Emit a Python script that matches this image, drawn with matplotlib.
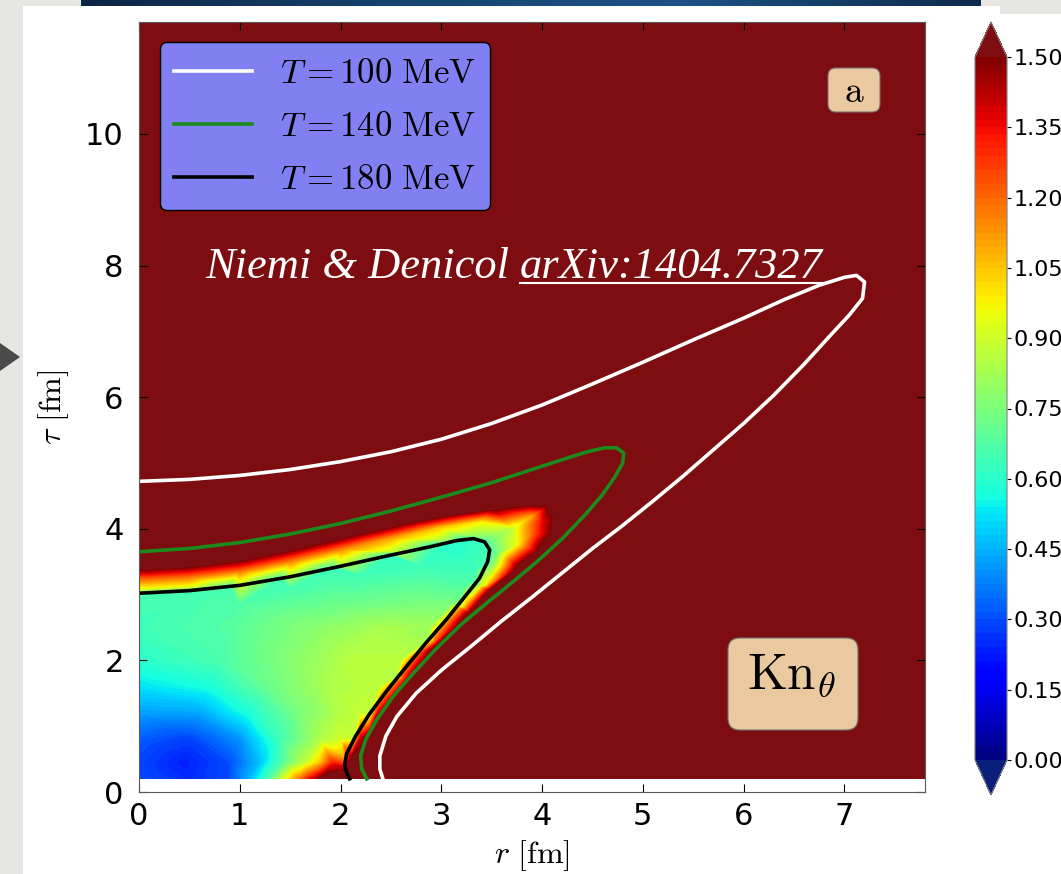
import numpy as np
import matplotlib

matplotlib.use("Agg")

import matplotlib.pyplot as plt
import matplotlib.tri as mtri
from matplotlib.colors import LinearSegmentedColormap
from matplotlib.lines import Line2D
from matplotlib.patches import FancyBboxPatch, Polygon, Rectangle

plt.rcParams["mathtext.fontset"] = "cm"

W, H = 1061, 874

# ---- isotherms (r, tau) in fm ----
T100_R = [0.0, 0.5, 1.0, 1.5, 2.0, 2.5, 3.0, 3.5, 4.0, 4.5, 5.0, 5.5, 6.0, 6.4, 6.75, 7.0,
          7.12, 7.2, 7.18, 7.05, 6.85, 6.6, 6.3, 6.0, 5.7, 5.4, 5.1, 4.8, 4.5, 4.2, 3.9,
          3.6, 3.3, 3.0, 2.75, 2.56, 2.45, 2.39, 2.39, 2.42]
T100_TAU = [4.72, 4.75, 4.81, 4.9, 5.02, 5.17, 5.36, 5.6, 5.88, 6.2, 6.53, 6.87, 7.2, 7.48, 7.7, 7.82,
            7.85, 7.75, 7.5, 7.25, 6.92, 6.5, 6.03, 5.6, 5.2, 4.8, 4.42, 4.05, 3.7, 3.33, 2.96,
            2.6, 2.22, 1.85, 1.5, 1.15, 0.85, 0.55, 0.35, 0.2]

T140_R = [0.0, 0.5, 1.0, 1.5, 2.0, 2.5, 3.0, 3.5, 3.9, 4.2, 4.45, 4.62, 4.74, 4.81, 4.8,
          4.72, 4.6, 4.42, 4.2, 3.95, 3.7, 3.45, 3.2, 2.95, 2.72, 2.52, 2.36, 2.25, 2.2,
          2.21, 2.26]
T140_TAU = [3.65, 3.7, 3.79, 3.92, 4.08, 4.27, 4.48, 4.7, 4.9, 5.05, 5.17, 5.23, 5.23, 5.15, 5.0,
            4.78, 4.52, 4.2, 3.85, 3.5, 3.18, 2.87, 2.55, 2.18, 1.8, 1.45, 1.1, 0.8, 0.55,
            0.35, 0.2]

T180_R = [0.0, 0.5, 1.0, 1.5, 2.0, 2.5, 2.9, 3.15, 3.32, 3.43, 3.48, 3.46, 3.38, 3.25,
          3.05, 2.85, 2.65, 2.45, 2.28, 2.15, 2.06, 2.04, 2.07, 2.09]
T180_TAU = [3.02, 3.06, 3.14, 3.27, 3.43, 3.6, 3.73, 3.82, 3.85, 3.8, 3.68, 3.5, 3.25, 3.0,
            2.62, 2.27, 1.9, 1.52, 1.17, 0.85, 0.58, 0.4, 0.26, 0.2]

# ---- Kn_theta samples (r, tau, value) ----
KN_R = [
    # interior
    0.0, 0.5, 0.9, 1.1, 1.3, 1.45, 1.58, 1.7, 1.85,
    0.0, 0.45, 0.9, 1.2, 1.45, 1.65, 1.8, 1.92,
    0.0, 0.5, 1.0, 1.4, 1.8, 2.0,
    0.0, 0.6, 1.1, 1.6, 2.0, 2.2,
    0.0, 0.7, 1.3, 1.9, 2.4,
    0.0, 0.8, 1.5, 2.1, 2.6,
    0.0, 0.9, 1.7, 2.4, 2.9,
    0.0, 1.0, 2.0, 2.8, 3.1,
    1.5, 2.2, 2.8, 3.2, 3.35, 3.25,
    # along the T=180 MeV edge
    0.0, 0.5, 0.9, 1.4, 1.9, 2.5, 3.0, 3.25, 3.42, 3.48,
    3.45, 3.35, 3.18, 2.88, 2.56, 2.3, 2.13, 2.04, 2.05, 2.09,
    # just outside the edge
    0.0, 0.5, 1.0, 1.5, 2.0, 2.5, 3.0, 3.3,
    3.52, 3.57, 3.54, 3.44, 3.26, 2.95, 2.63, 2.37, 2.2, 2.11,
    # middle of the halo
    0.0, 0.5, 1.0, 1.5, 2.0, 2.5, 3.0, 3.4,
    3.7, 3.9, 3.75, 3.9, 4.0,
    # outer rim of the halo
    0.0, 0.5, 1.0, 1.5, 2.0, 2.5, 3.0, 3.5, 3.85, 4.1,
    4.2, 4.15, 4.0, 3.78, 3.5, 3.3, 2.98, 2.72, 2.46, 2.28, 2.19, 2.2,
    # saturated background
    0.0, 7.8, 7.8, 0.0, 2.5, 5.0, 5.0, 5.0, 3.5, 2.8, 1.5, 3.0, 4.0,
]
KN_TAU = [
    0.2, 0.2, 0.2, 0.2, 0.2, 0.2, 0.2, 0.2, 0.2,
    0.45, 0.45, 0.45, 0.45, 0.45, 0.45, 0.45, 0.45,
    0.8, 0.8, 0.8, 0.8, 0.8, 0.8,
    1.2, 1.2, 1.2, 1.2, 1.2, 1.2,
    1.6, 1.6, 1.6, 1.6, 1.6,
    2.0, 2.0, 2.0, 2.0, 2.0,
    2.5, 2.5, 2.5, 2.5, 2.5,
    2.85, 2.85, 2.85, 2.85, 2.85,
    3.1, 3.3, 3.45, 3.6, 3.4, 3.15,
    3.02, 3.06, 3.12, 3.25, 3.41, 3.6, 3.77, 3.84, 3.8, 3.65,
    3.45, 3.15, 2.85, 2.32, 1.73, 1.22, 0.82, 0.52, 0.32, 0.2,
    3.09, 3.13, 3.21, 3.35, 3.51, 3.67, 3.84, 3.91,
    3.87, 3.65, 3.42, 3.13, 2.83, 2.29, 1.71, 1.21, 0.82, 0.52,
    3.24, 3.28, 3.37, 3.52, 3.69, 3.86, 4.03, 4.12,
    4.0, 4.2, 3.75, 3.9, 4.1,
    3.42, 3.47, 3.56, 3.72, 3.9, 4.07, 4.22, 4.33, 4.4, 4.38,
    4.2, 3.95, 3.65, 3.4, 3.05, 2.7, 2.22, 1.7, 1.2, 0.8, 0.5, 0.2,
    11.7, 11.7, 0.2, 5.0, 5.0, 5.0, 2.5, 0.2, 0.2, 0.2, 4.3, 1.0, 2.0,
]
KN_VAL = [
    0.30, 0.25, 0.30, 0.45, 0.68, 0.93, 1.15, 1.35, 1.60,
    0.29, 0.23, 0.30, 0.47, 0.70, 0.87, 1.05, 1.30,
    0.32, 0.28, 0.40, 0.64, 0.84, 0.90,
    0.42, 0.43, 0.58, 0.75, 0.85, 0.88,
    0.52, 0.57, 0.72, 0.84, 0.87,
    0.60, 0.66, 0.77, 0.86, 0.86,
    0.64, 0.68, 0.77, 0.83, 0.82,
    0.65, 0.67, 0.72, 0.75, 0.75,
    0.65, 0.64, 0.63, 0.61, 0.63, 0.67,
    0.65, 0.65, 0.65, 0.64, 0.63, 0.62, 0.61, 0.61, 0.63, 0.65,
    0.67, 0.71, 0.75, 0.82, 0.85, 0.86, 0.88, 1.10, 1.50, 1.60,
    0.95, 0.95, 0.95, 0.93, 0.92, 0.90, 0.85, 0.80,
    0.75, 0.75, 0.85, 1.00, 1.15, 1.25, 1.30, 1.35, 1.40, 1.50,
    1.20, 1.20, 1.20, 1.18, 1.15, 1.10, 1.05, 1.00,
    0.87, 1.10, 0.95, 1.20, 1.35,
    1.6, 1.6, 1.6, 1.6, 1.6, 1.6, 1.6, 1.6, 1.6, 1.6,
    1.6, 1.6, 1.6, 1.6, 1.6, 1.6, 1.6, 1.6, 1.6, 1.6, 1.6, 1.6,
    1.6, 1.6, 1.6, 1.6, 1.6, 1.6, 1.6, 1.6, 1.6, 1.6, 1.6, 1.6, 1.6,
]

ISOTHERM_LABELS = [r"$T=100\ \mathrm{MeV}$", r"$T=140\ \mathrm{MeV}$", r"$T=180\ \mathrm{MeV}$"]
ISOTHERM_COLORS = ["white", "#1c8a1c", "black"]
CBAR_TICKS = [0.0, 0.15, 0.30, 0.45, 0.60, 0.75, 0.90, 1.05, 1.20, 1.35, 1.50]

cmap = plt.get_cmap("jet").copy()
cmap.set_over("#7d0d10")
cmap.set_under("#0a1f7a")

fig = plt.figure(figsize=(W / 100, H / 100), dpi=100, facecolor="#e6e6e3")

# slide frame: white panel, title bar, arrow
fig.add_artist(Rectangle((23 / W, 0), 1, 868 / H, transform=fig.transFigure,
                         facecolor="white", edgecolor="none", zorder=0))
fig.add_artist(Rectangle((1000 / W, 860 / H), 61 / W, 14 / H, transform=fig.transFigure,
                         facecolor="#e6e6e3", edgecolor="none", zorder=0))
bar_ax = fig.add_axes([81 / W, 868 / H, 900 / W, 6 / H])
bar_cmap = LinearSegmentedColormap.from_list("bar", ["#0c2444", "#16426e", "#1d5286", "#0e2a4c"])
bar_ax.imshow(np.linspace(0, 1, 256)[None, :], cmap=bar_cmap, aspect="auto")
bar_ax.axis("off")
fig.add_artist(Polygon([(0, 1 - 343 / H), (20 / W, 1 - 357 / H), (0, 1 - 371 / H)],
                       closed=True, transform=fig.transFigure, facecolor="#4a4a4a",
                       edgecolor="none"))

ax = fig.add_axes([139 / W, 82 / H, 786 / W, 770 / H])
ax.set_facecolor("white")

tri = mtri.Triangulation(KN_R, KN_TAU)
cs = ax.tricontourf(tri, KN_VAL, levels=np.linspace(0, 1.5, 101), cmap=cmap, extend="both")

for r, tau, col, lab in zip([T100_R, T140_R, T180_R], [T100_TAU, T140_TAU, T180_TAU],
                            ISOTHERM_COLORS, ISOTHERM_LABELS):
    ax.plot(r, tau, color=col, lw=2.6, solid_joinstyle="round", label=lab)

ax.set_xlim(0, 7.8)
ax.set_ylim(0, 11.7)
ax.set_xticks(range(8))
ax.set_yticks([0, 2, 4, 6, 8, 10])
ax.tick_params(direction="in", top=True, right=True, labelsize=22, length=6)
ax.tick_params(axis="y", pad=11)
ax.tick_params(axis="x", pad=7)
for sp in ax.spines.values():
    sp.set_color("0.35")

ax.set_xlabel(r"$r\ [\mathrm{fm}]$", fontsize=23, labelpad=5)
ax.set_ylabel(r"$\tau\ [\mathrm{fm}]$", fontsize=23, labelpad=10)

leg = ax.legend(loc="upper left", bbox_to_anchor=(21 / 786, 1 - 20 / 770), borderaxespad=0,
                facecolor="#8080f2", edgecolor="black", framealpha=1, fontsize=25,
                handlelength=2.25, handletextpad=0.8, labelspacing=0.55, borderpad=0.4)
for line in leg.get_lines():
    line.set_linewidth(2.6)

# panel tag and quantity label in rounded boxes (positions in inches)
tag_kw = dict(boxstyle="round,pad=0,rounding_size=0.08", facecolor="#ebc9a0",
              edgecolor="0.45", lw=0.8, transform=fig.dpi_scale_trans)
fig.add_artist(FancyBboxPatch((8.28, 7.62), 0.52, 0.44, **tag_kw))
fig.add_artist(FancyBboxPatch((7.28, 1.44), 1.30, 0.92,
                              **dict(tag_kw, boxstyle="round,pad=0,rounding_size=0.12")))
fig.text(854 / W, 1 - 92 / H, r"$\mathrm{a}$", fontsize=27, ha="center", va="center")
fig.text(792 / W, 1 - 689 / H, r"$\mathrm{Kn}_{\theta}$", fontsize=37, ha="center",
         va="baseline")

cax = fig.add_axes([975 / W, 79 / H, 32 / W, 773 / H])
cb = fig.colorbar(cs, cax=cax, ticks=CBAR_TICKS, format="%.2f")
cb.ax.tick_params(labelsize=16, pad=1.5, length=3)
cb.outline.set_edgecolor("0.5")

# reference overlay with underlined arXiv number
txt_kw = dict(color="white", fontsize=32, family="Liberation Serif", style="italic",
              va="baseline")
y0 = 1 - 278 / H
t1 = fig.text(205 / W, y0, "Niemi & Denicol ", **txt_kw)
fig.canvas.draw()
bb1 = t1.get_window_extent()
t2 = fig.text(bb1.x1 / W, y0, "arXiv:1404.7327", **txt_kw)
fig.canvas.draw()
bb2 = t2.get_window_extent()
uy = y0 - 5 / H
fig.add_artist(Line2D([bb2.x0 / W, bb2.x1 / W], [uy, uy], transform=fig.transFigure,
                      color="white", lw=1.5))

fig.savefig("out.png", dpi=100, facecolor=fig.get_facecolor())
